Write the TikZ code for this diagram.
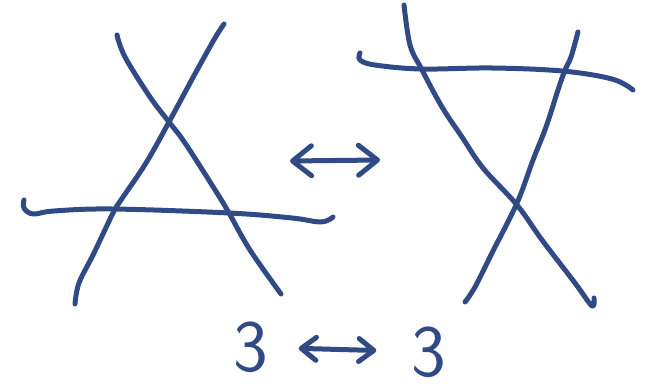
\documentclass[tikz,border=0pt]{standalone}
\usepackage{tikz}
\usetikzlibrary{arrows.meta}
\usepackage{xcolor}
\definecolor{ink}{HTML}{2F4A85}

\begin{document}
\begin{tikzpicture}[
    x=0.02cm, y=-0.02cm,
    inkline/.style={draw=ink, line width=0.1cm, line cap=round, line join=round},
    bigtip/.tip={Straight Barb[length=3.8mm, width=6mm, round]},
    smalltip/.tip={Straight Barb[length=3mm, width=4.6mm, round]},
    digit/.style={text=ink, inner sep=0pt, font=\sffamily\fontsize{42}{42}\selectfont}
  ]
  \useasboundingbox (0,0) rectangle (652,388);

  %% Left figure: two crossing strokes and a low bar
  \draw[inkline] plot[smooth, tension=0.6] coordinates
        {(117,35) (125,57) (150,97) (169,122) (185,143) (217,193) (229,213) (250,250) (281,294)};
  \draw[inkline] plot[smooth, tension=0.6] coordinates
        {(224,24) (215,38) (196,72) (169,122) (146,163) (121,200) (113,213) (94,253) (79,283) (75,304)};
  \draw[inkline] plot[smooth, tension=0.6] coordinates
        {(24,200) (24,208) (33,214) (54,211) (112,209) (229,213) (292,218) (321,222) (333,217)};

  %% Right figure: two crossing strokes and a high bar
  \draw[inkline] plot[smooth, tension=0.6] coordinates
        {(404,5) (410,45) (421,68) (442,107) (462,137) (483,168) (517,205) (542,240) (575,283) (592,306) (594,298)};
  \draw[inkline] plot[smooth, tension=0.6] coordinates
        {(578,32) (571,57) (565,70) (558,90) (546,127) (533,160) (517,203) (492,253) (475,287) (465,302)};
  \draw[inkline] plot[smooth, tension=0.6] coordinates
        {(360,53) (360,60) (375,65) (421,69) (492,68) (562,71) (612,79) (633,90)};

  %% Middle double arrow
  \coordinate (midl) at (290,161);
  \coordinate (midr) at (380,160);
  \draw[inkline, bigtip-bigtip] (midl) -- (midr);

  %% Bottom labels
  \node[digit] (threel) at (251,347) {3};
  \node[digit] (threer) at (429,352) {3};
  \draw[inkline, smalltip-smalltip, shorten <=0.6cm, shorten >=0.7cm]
        (threel) -- (threer);

\end{tikzpicture}
\end{document}
